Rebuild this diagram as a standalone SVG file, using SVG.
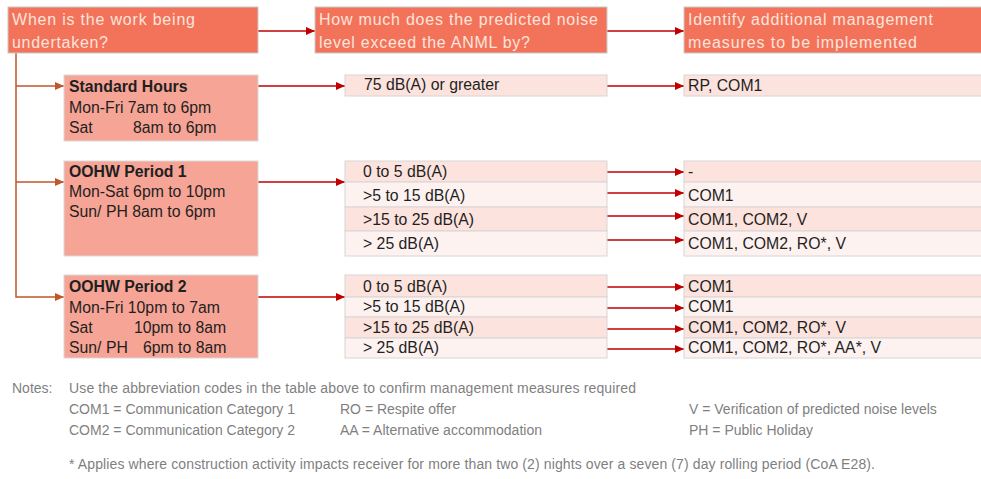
<svg xmlns="http://www.w3.org/2000/svg" width="981" height="479" viewBox="0 0 981 479">
<defs>
<marker id="ar" markerUnits="userSpaceOnUse" markerWidth="10" markerHeight="8" refX="9" refY="4" orient="auto"><path d="M0,0 L9,4 L0,8 Z" fill="#C00000"/></marker>
<marker id="ao" markerUnits="userSpaceOnUse" markerWidth="10" markerHeight="8" refX="9" refY="4" orient="auto"><path d="M0,0 L9,4 L0,8 Z" fill="#C0562A"/></marker>
</defs>
<style>
.hd{fill:#F2735A;stroke:#C9C9C9;stroke-width:1}
.ht{font-family:"Liberation Sans",Arial,sans-serif;font-size:16px;fill:#FDE4DC}
.pd{fill:#F6A495;stroke:#D9D9D9;stroke-width:1}
.t{font-family:"Liberation Sans",Arial,sans-serif;font-size:15.8px;fill:#1F1F1F}
.b{font-weight:bold}
.r1{fill:#FCE3DD;stroke:#D6D6D6;stroke-width:1}
.r2{fill:#FDF2EF;stroke:#D6D6D6;stroke-width:1}
.n{font-family:"Liberation Sans",Arial,sans-serif;font-size:14px;fill:#7F7F7F}
.cr{fill:none;stroke:#C00000;stroke-width:1.5}
.co{fill:none;stroke:#C0562A;stroke-width:1.5}
</style>
<rect width="981" height="479" fill="#FFFFFF"/>

<g id="connectors">
<path class="cr" d="M258,31 H315" marker-end="url(#ar)"/>
<path class="cr" d="M607,31 H684" marker-end="url(#ar)"/>
<path class="co" d="M16,53 V297 H64" marker-end="url(#ao)"/>
<path class="co" d="M16,86 H64" marker-end="url(#ao)"/>
<path class="co" d="M16,182 H64" marker-end="url(#ao)"/>
<path class="cr" d="M258,86 H345" marker-end="url(#ar)"/>
<path class="cr" d="M258,182 H345" marker-end="url(#ar)"/>
<path class="cr" d="M258,297 H345" marker-end="url(#ar)"/>
<path class="cr" d="M607,86 H684" marker-end="url(#ar)"/>
<path class="cr" d="M607,172 H684" marker-end="url(#ar)"/>
<path class="cr" d="M607,193 H684" marker-end="url(#ar)"/>
<path class="cr" d="M607,216 H684" marker-end="url(#ar)"/>
<path class="cr" d="M607,240 H684" marker-end="url(#ar)"/>
<path class="cr" d="M607,287 H684" marker-end="url(#ar)"/>
<path class="cr" d="M607,308 H684" marker-end="url(#ar)"/>
<path class="cr" d="M607,329 H684" marker-end="url(#ar)"/>
<path class="cr" d="M607,349 H684" marker-end="url(#ar)"/>
</g>

<g id="h1">
<rect class="hd" x="8" y="7" width="250" height="46"/>
<text class="ht" x="12" y="25" textLength="183">When is the work being</text>
<text class="ht" x="12" y="48" textLength="96">undertaken?</text>
</g>
<g id="h2">
<rect class="hd" x="315" y="7" width="292" height="46"/>
<text class="ht" x="319" y="25" textLength="279">How much does the predicted noise</text>
<text class="ht" x="319" y="48" textLength="211">level exceed the ANML by?</text>
</g>
<g id="h3">
<rect class="hd" x="684" y="7" width="300" height="46"/>
<text class="ht" x="688" y="25" textLength="245">Identify additional management</text>
<text class="ht" x="688" y="48" textLength="229">measures to be implemented</text>
</g>

<g id="standard">
<rect class="pd" x="64" y="75" width="194" height="66"/>
<text class="t b" x="69" y="92">Standard Hours</text>
<text class="t" x="69" y="113">Mon-Fri 7am to 6pm</text>
<text class="t" x="69" y="133">Sat</text>
<text class="t" x="133" y="133">8am to 6pm</text>
</g>
<g id="std-range">
<rect class="r1" x="345" y="75" width="262" height="21"/>
<text class="t" x="364" y="90">75 dB(A) or greater</text>
</g>
<g id="std-measures">
<rect class="r1" x="684" y="75" width="300" height="21"/>
<text class="t" x="688" y="91">RP, COM1</text>
</g>

<g id="period1">
<rect class="pd" x="64" y="161" width="194" height="95"/>
<text class="t b" x="69" y="177">OOHW Period 1</text>
<text class="t" x="69" y="197">Mon-Sat 6pm to 10pm</text>
<text class="t" x="69" y="217">Sun/ PH 8am to 6pm</text>
</g>
<g id="p1-ranges">
<rect class="r1" x="345" y="161" width="262" height="21"/>
<rect class="r2" x="345" y="182" width="262" height="25"/>
<rect class="r1" x="345" y="207" width="262" height="24"/>
<rect class="r2" x="345" y="231" width="262" height="25"/>
<text class="t" x="363" y="177">0 to 5 dB(A)</text>
<text class="t" x="363" y="201">&gt;5 to 15 dB(A)</text>
<text class="t" x="363" y="225">&gt;15 to 25 dB(A)</text>
<text class="t" x="363" y="249">&gt; 25 dB(A)</text>
</g>
<g id="p1-measures">
<rect class="r1" x="684" y="161" width="300" height="21"/>
<rect class="r2" x="684" y="182" width="300" height="25"/>
<rect class="r1" x="684" y="207" width="300" height="24"/>
<rect class="r2" x="684" y="231" width="300" height="25"/>
<text class="t" x="688" y="177">-</text>
<text class="t" x="688" y="201">COM1</text>
<text class="t" x="688" y="225">COM1, COM2, V</text>
<text class="t" x="688" y="249">COM1, COM2, RO*, V</text>
</g>

<g id="period2">
<rect class="pd" x="64" y="275" width="194" height="83"/>
<text class="t b" x="69" y="292">OOHW Period 2</text>
<text class="t" x="69" y="313">Mon-Fri 10pm to 7am</text>
<text class="t" x="69" y="333">Sat</text>
<text class="t" x="134" y="333">10pm to 8am</text>
<text class="t" x="69" y="353">Sun/ PH</text>
<text class="t" x="143" y="353">6pm to 8am</text>
</g>
<g id="p2-ranges">
<rect class="r1" x="345" y="275" width="262" height="22"/>
<rect class="r2" x="345" y="297" width="262" height="20"/>
<rect class="r1" x="345" y="317" width="262" height="21"/>
<rect class="r2" x="345" y="338" width="262" height="20"/>
<text class="t" x="363" y="292">0 to 5 dB(A)</text>
<text class="t" x="363" y="312">&gt;5 to 15 dB(A)</text>
<text class="t" x="363" y="333">&gt;15 to 25 dB(A)</text>
<text class="t" x="363" y="353">&gt; 25 dB(A)</text>
</g>
<g id="p2-measures">
<rect class="r1" x="684" y="275" width="300" height="22"/>
<rect class="r2" x="684" y="297" width="300" height="20"/>
<rect class="r1" x="684" y="317" width="300" height="21"/>
<rect class="r2" x="684" y="338" width="300" height="20"/>
<text class="t" x="688" y="292">COM1</text>
<text class="t" x="688" y="312">COM1</text>
<text class="t" x="688" y="333">COM1, COM2, RO*, V</text>
<text class="t" x="688" y="353">COM1, COM2, RO*, AA*, V</text>
</g>

<g id="notes">
<text class="n" x="12" y="393">Notes:</text>
<text class="n" x="69" y="393" textLength="567">Use the abbreviation codes in the table above to confirm management measures required</text>
<text class="n" x="69" y="414">COM1 = Communication Category 1</text>
<text class="n" x="340" y="414">RO = Respite offer</text>
<text class="n" x="689" y="414">V = Verification of predicted noise levels</text>
<text class="n" x="69" y="435">COM2 = Communication Category 2</text>
<text class="n" x="340" y="435">AA = Alternative accommodation</text>
<text class="n" x="689" y="435">PH = Public Holiday</text>
<text class="n" x="69" y="469" textLength="806">* Applies where construction activity impacts receiver for more than two (2) nights over a seven (7) day rolling period (CoA E28).</text>
</g>
</svg>
